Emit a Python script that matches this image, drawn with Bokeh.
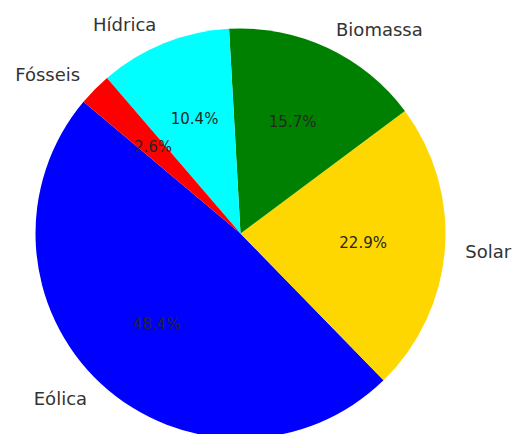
import math
from bokeh.plotting import figure
from bokeh.models import Range1d, ColumnDataSource
from bokeh.core.properties import value
from bokeh.embed import file_html
from bokeh.resources import INLINE

labels = ["Eólica", "Solar", "Biomassa", "Hídrica", "Fósseis"]
shares = [48.4, 22.9, 15.7, 10.4, 2.6]
colors = ["#0000ff", "#ffd700", "#008000", "#00ffff", "#ff0000"]
start_deg = 140.0

W, H = 512, 434
R = 205.0  # pixels
cx, cy = 240.0, 233.0  # pixel center (from top-left)

total = sum(shares)
starts, ends, mids = [], [], []
a = math.radians(start_deg)
for v in shares:
    da = 2 * math.pi * v / total
    starts.append(a)
    ends.append(a + da)
    mids.append(a + da / 2)
    a += da

src = ColumnDataSource(dict(start=starts, end=ends, color=colors))

p = figure(width=W, height=H, output_backend="svg", toolbar_location=None,
           x_range=Range1d(-cx / R, (W - cx) / R), y_range=Range1d(-(H - cy) / R, cy / R),
           min_border=0)
p.axis.visible = False
p.grid.visible = False
p.outline_line_color = None
p.background_fill_color = "white"
p.border_fill_color = "white"

p.wedge(x=0, y=0, radius=1.0, start_angle="start", end_angle="end",
        fill_color="color", line_color=None, direction="anticlock", source=src)

pct_x = [0.6 * math.cos(m) for m in mids]
pct_y = [0.6 * math.sin(m) for m in mids]
pct_t = [f"{v:.1f}%" for v in shares]
p.text(x=pct_x, y=pct_y, text=pct_t, text_align="center", text_baseline="middle",
       text_font=value("DejaVu Sans"), text_font_size="15px", text_color="#262626")

for lab, m in zip(labels, mids):
    lx, ly = 1.1 * math.cos(m), 1.1 * math.sin(m)
    p.text(x=[lx], y=[ly], text=[lab], text_align="left" if lx > 0 else "right",
           text_baseline="middle", text_font=value("DejaVu Sans"),
           text_font_size="18px", text_color="#333333")

open("out.html", "w").write(file_html(p, INLINE))
